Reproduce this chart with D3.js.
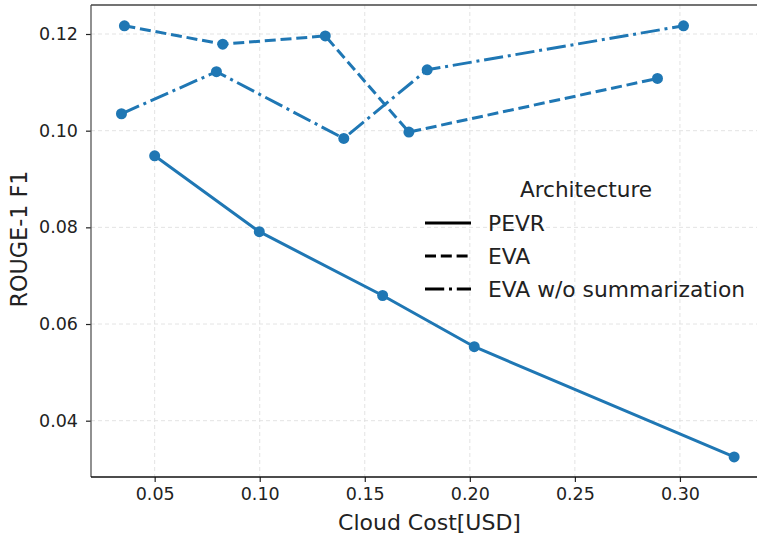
<!DOCTYPE html>
<html>
<head>
<meta charset="utf-8">
<script src="https://cdn.jsdelivr.net/npm/d3@7"></script>
<style>
    html, body { margin: 0; padding: 0; background: #fff; overflow: hidden; }
    svg { display: block; }
    text { font-family: "DejaVu Sans", sans-serif; fill: #222; }
</style>
</head>
<body>
<div id="myPlot"></div>
<script>
// data
var pevrCost = [0.0500, 0.0998, 0.1585, 0.2021, 0.3258];
var pevrRouge = [0.0948, 0.0791, 0.0659, 0.0553, 0.0325];

var evaCost = [0.0356, 0.0824, 0.1312, 0.1710, 0.2893];
var evaRouge = [0.1217, 0.1179, 0.1196, 0.0997, 0.1108];

var evaNoSumCost = [0.0342, 0.0794, 0.1400, 0.1797, 0.3017];
var evaNoSumRouge = [0.1035, 0.1122, 0.0984, 0.1126, 0.1217];

var seriesNames = ["PEVR", "EVA", "EVA w/o summarization"];
var xTicks = [0.05, 0.10, 0.15, 0.20, 0.25, 0.30];
var yTicks = [0.04, 0.06, 0.08, 0.10, 0.12];

// svg + margins
var svgWidth = 757;
var svgHeight = 538;
var margin = { top: 5, right: -11, bottom: 61, left: 91 };
var innerWidth = svgWidth - margin.left - margin.right;
var innerHeight = svgHeight - margin.top - margin.bottom;

var blue = "#1f77b4";
var lineW = 3;
// matplotlib style dash patterns scaled by the line width
var dashes = [null, "11,4.8", "19.2,4.8,3,4.8"];

var svg = d3.select("#myPlot")
    .append("svg")
    .attr("width", svgWidth)
    .attr("height", svgHeight);

var g = svg.append("g")
    .attr("transform", `translate(${margin.left}, ${margin.top})`);

var xScale = d3.scaleLinear()
    .domain([0.0197, 0.3367 + 11 / 2110])
    .range([0, innerWidth]);

var yScale = d3.scaleLinear()
    .domain([0.02835, 0.126])
    .range([innerHeight, 0]);

// grid
g.selectAll(".xgrid").data(xTicks)
    .enter().append("line")
    .attr("x1", d => xScale(d)).attr("x2", d => xScale(d))
    .attr("y1", 0).attr("y2", innerHeight)
    .attr("stroke", "#e0e0e0").attr("stroke-width", 0.9)
    .attr("stroke-dasharray", "4,3");

g.selectAll(".ygrid").data(yTicks)
    .enter().append("line")
    .attr("y1", d => yScale(d)).attr("y2", d => yScale(d))
    .attr("x1", 0).attr("x2", innerWidth)
    .attr("stroke", "#e0e0e0").attr("stroke-width", 0.9)
    .attr("stroke-dasharray", "4,3");

// axes
var xAxis = d3.axisBottom(xScale).tickValues(xTicks).tickFormat(d3.format(".2f"))
    .tickSize(5).tickPadding(6);
var yAxis = d3.axisLeft(yScale).tickValues(yTicks).tickFormat(d3.format(".2f"))
    .tickSize(5).tickPadding(8);

var xg = g.append("g")
    .attr("transform", `translate(0, ${innerHeight})`)
    .call(xAxis);
var yg = g.append("g").call(yAxis);

[xg, yg].forEach(function (a) {
    a.select(".domain").remove();
    a.selectAll(".tick line").attr("stroke", "#222").attr("stroke-width", 1.2);
    a.selectAll(".tick text")
        .style("font-family", "DejaVu Sans")
        .style("font-size", "17.5px")
        .attr("fill", "#222");
});

// frame (right side is cut off by the picture edge)
g.append("line").attr("x1", 0).attr("x2", 0).attr("y1", 0).attr("y2", innerHeight)
    .attr("stroke", "#555").attr("stroke-width", 1.3);
g.append("line").attr("x1", 0).attr("x2", innerWidth).attr("y1", 0).attr("y2", 0)
    .attr("stroke", "#444").attr("stroke-width", 1.3);
g.append("line").attr("x1", 0).attr("x2", innerWidth).attr("y1", innerHeight).attr("y2", innerHeight)
    .attr("stroke", "#111").attr("stroke-width", 1.3);

// series
var series = [
    d3.zip(pevrCost, pevrRouge),
    d3.zip(evaCost, evaRouge),
    d3.zip(evaNoSumCost, evaNoSumRouge)
];

var line = d3.line()
    .x(d => xScale(d[0]))
    .y(d => yScale(d[1]));

series.forEach(function (s, i) {
    g.append("path")
        .datum(s)
        .attr("d", line)
        .attr("fill", "none")
        .attr("stroke", blue)
        .attr("stroke-width", lineW)
        .attr("stroke-linejoin", "round")
        .attr("stroke-dasharray", dashes[i]);

    g.selectAll(".pt" + i).data(s)
        .enter().append("circle")
        .attr("cx", d => xScale(d[0]))
        .attr("cy", d => yScale(d[1]))
        .attr("r", 5.5)
        .attr("fill", blue);
});

// axis labels
svg.append("text")
    .attr("text-anchor", "middle")
    .attr("x", 429.5)
    .attr("y", 530)
    .style("font-size", "22px")
    .text("Cloud Cost[USD]");

svg.append("text")
    .attr("text-anchor", "middle")
    .attr("transform", "translate(26.5, 239)rotate(-90)")
    .style("font-size", "22.3px")
    .text("ROUGE-1 F1");

// legend (no frame)
var legend = svg.append("g");

legend.append("text")
    .attr("text-anchor", "middle")
    .attr("x", 586)
    .attr("y", 197)
    .style("font-size", "21.6px")
    .text("Architecture");

seriesNames.forEach(function (name, i) {
    var yy = 223 + i * 33;
    legend.append("line")
        .attr("x1", 425).attr("x2", 471)
        .attr("y1", yy).attr("y2", yy)
        .attr("stroke", "#000")
        .attr("stroke-width", lineW)
        .attr("stroke-dasharray", dashes[i]);
    legend.append("text")
        .attr("x", 488)
        .attr("y", yy + 7.7)
        .style("font-size", "21.8px")
        .text(name);
});
</script>
</body>
</html>
